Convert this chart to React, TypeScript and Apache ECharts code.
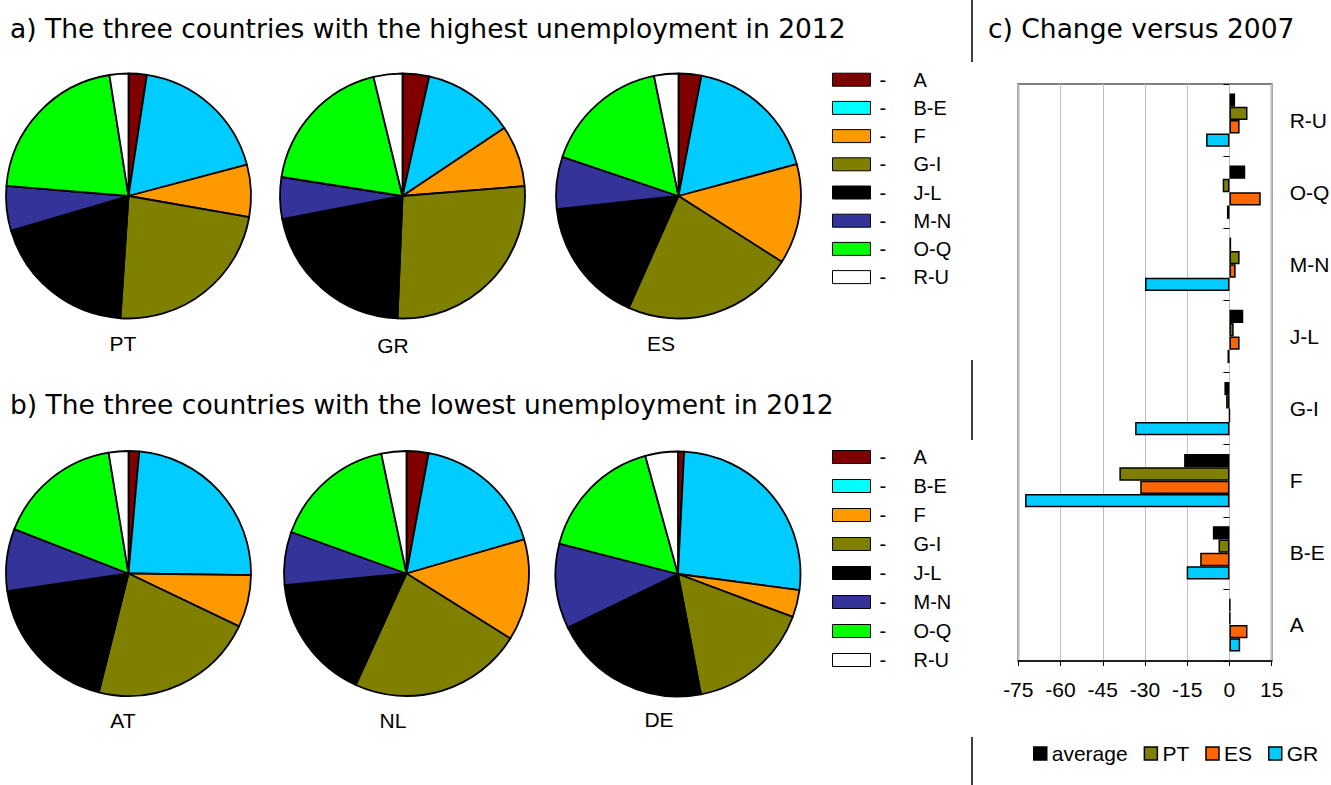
import React, { useEffect, useRef } from "react";
import * as echarts from "echarts";

// ---- Data ----
const sectors = ["A", "B-E", "F", "G-I", "J-L", "M-N", "O-Q", "R-U"];
const sectorColors = ["#800000", "#00CCFF", "#FF9900", "#808000", "#000000", "#333399", "#00FF00", "#FFFFFF"];
const legendColors = ["#800000", "#00FFFF", "#FF9900", "#808000", "#000000", "#333399", "#00FF00", "#FFFFFF"];

const highCountries = ["PT", "GR", "ES"];
const lowCountries = ["AT", "NL", "DE"];

// shares of unemployed by sector (%), order = sectors
const sharePT = [2.4, 18.5, 6.9, 23.3, 19.4, 5.9, 21.2, 2.5];
const shareGR = [3.5, 12.1, 8.1, 26.9, 21.3, 5.5, 18.7, 3.8];
const shareES = [3.0, 17.8, 13.2, 22.6, 16.6, 6.9, 16.6, 3.2];
const shareAT = [1.4, 23.8, 6.9, 21.8, 18.8, 8.2, 16.5, 2.6];
const shareNL = [2.9, 17.6, 13.4, 22.9, 16.7, 7.0, 16.2, 3.3];
const shareDE = [0.8, 26.3, 3.6, 16.3, 20.8, 11.2, 16.7, 4.3];

// change versus 2007, order = sectors (bottom to top)
const changeAverage = [0.3, -5.9, -16.1, -1.8, 4.9, 0.6, 5.6, 2.0];
const changePT = [0.3, -3.9, -39.1, -1.2, 1.5, 3.6, -2.4, 6.4];
const changeES = [6.4, -10.4, -31.7, 0, 3.6, 2.2, 11.1, 3.6];
const changeGR = [3.8, -15.2, -72.6, -33.5, -0.7, -30.0, -0.9, -8.3];
const barLegend = ["average", "PT", "ES", "GR"];

const titleA = "a) The three countries with the highest unemployment in 2012";
const titleB = "b) The three countries with the lowest unemployment in 2012";
const titleC = "c) Change versus 2007";

// ---- Layout ----
const ARIAL = "'Liberation Sans', Arial, sans-serif";
const VERDANA = "'DejaVu Sans', Verdana, sans-serif";
const pieR = 122.5;

function pieSeries(id: string, values: number[], cx: number, cy: number) {
  return {
    type: "pie",
    name: "pie-" + id,
    center: [cx, cy],
    radius: pieR,
    startAngle: 90,
    clockwise: true,
    silent: true,
    label: { show: false },
    labelLine: { show: false },
    emphasis: { disabled: true },
    itemStyle: { borderColor: "#000", borderWidth: 1.8 },
    data: sectors.map((s, i) => ({ name: s, value: values[i], itemStyle: { color: sectorColors[i] } })),
  };
}

function sectorLegend(top: number, gap: number) {
  return {
    orient: "vertical",
    left: 832,
    top,
    padding: 0,
    itemWidth: 38,
    itemHeight: 13,
    itemGap: gap,
    icon: "rect",
    selectedMode: false,
    data: sectors.map((s, i) => ({
      name: s,
      itemStyle: { color: legendColors[i], borderColor: "#000", borderWidth: 1 },
    })),
    formatter: (n: string) => `{d|-}{n|${n}}`,
    textStyle: {
      fontFamily: ARIAL,
      fontSize: 20,
      color: "#000",
      rich: {
        d: { width: 34, padding: [0, 0, 0, 4], fontFamily: ARIAL, fontSize: 20, color: "#000" },
        n: { fontFamily: ARIAL, fontSize: 20, color: "#000" },
      },
    },
  };
}

function barSeries(name: string, data: number[], color: string) {
  return {
    type: "bar",
    name,
    data,
    xAxisIndex: 0,
    yAxisIndex: 0,
    barGap: "0%",
    barCategoryGap: "26%",
    silent: true,
    itemStyle: { color, borderColor: "#000", borderWidth: 1.5 },
  };
}

function textEl(text: string, x: number, y: number, size: number, family: string, align = "left") {
  return {
    type: "text",
    x,
    y,
    silent: true,
    style: { text, fontSize: size, fontFamily: family, fill: "#000", align, verticalAlign: "middle" },
  };
}

function lineEl(y1: number, y2: number) {
  return {
    type: "line",
    silent: true,
    shape: { x1: 972, y1, x2: 972, y2 },
    style: { stroke: "#000", lineWidth: 1.5 },
  };
}

export default function App() {
  const ref = useRef<HTMLDivElement>(null);

  useEffect(() => {
    if (!ref.current) return;
    const chart = echarts.init(ref.current, null, { renderer: "svg" });
    const option: any = {
      animation: false,
      backgroundColor: "#fff",
      grid: {
        left: 1018.3,
        right: 59.3,
        top: 84,
        bottom: 124,
        show: true,
        borderColor: "#808080",
        borderWidth: 2,
        containLabel: false,
        outerBoundsMode: "none",
      },
      xAxis: {
        type: "value",
        min: -75,
        max: 15,
        interval: 15,
        position: "bottom",
        axisLine: { show: true, onZero: false, lineStyle: { color: "#000", width: 1.5 } },
        axisTick: { show: true, length: 5, lineStyle: { color: "#000", width: 1 } },
        axisLabel: { fontFamily: ARIAL, fontSize: 21, color: "#000", margin: 18 },
        splitLine: { show: true, lineStyle: { color: "#BFBFBF", width: 1 } },
      },
      yAxis: [
        {
          type: "category",
          data: sectors,
          position: "left",
          axisLine: { show: true, onZero: true, lineStyle: { color: "#000", opacity: 0 } },
          axisTick: { show: true, length: 6, lineStyle: { color: "#000", width: 1, opacity: 1 } },
          axisLabel: { show: false },
          splitLine: { show: false },
        },
        {
          type: "category",
          data: sectors,
          position: "right",
          axisLine: { show: false, onZero: false },
          axisTick: { show: false },
          axisLabel: { show: true, margin: 18, fontFamily: ARIAL, fontSize: 21, color: "#000", align: "left" },
          splitLine: { show: false },
        },
      ],
      legend: [
        sectorLegend(69.7, 8.2),
        sectorLegend(447, 9),
        {
          orient: "horizontal",
          left: 1033,
          top: 743,
          padding: 0,
          itemWidth: 13,
          itemHeight: 13,
          itemGap: 16,
          icon: "rect",
          selectedMode: false,
          data: barLegend,
          itemStyle: { borderColor: "#000", borderWidth: 1.5 },
          textStyle: { fontFamily: ARIAL, fontSize: 21, color: "#000", lineHeight: 20 },
        },
      ],
      series: [
        pieSeries(highCountries[0], sharePT, 128.5, 196),
        pieSeries(highCountries[1], shareGR, 402.5, 196),
        pieSeries(highCountries[2], shareES, 678.5, 196),
        pieSeries(lowCountries[0], shareAT, 128.5, 573.5),
        pieSeries(lowCountries[1], shareNL, 406.5, 573.5),
        pieSeries(lowCountries[2], shareDE, 678, 574),
        barSeries("average", changeAverage, "#000000"),
        barSeries("PT", changePT, "#808000"),
        barSeries("ES", changeES, "#FF6600"),
        barSeries("GR", changeGR, "#00CCFF"),
      ],
      graphic: [
        textEl(titleA, 10, 28, 26.5, VERDANA),
        textEl(titleB, 10, 404, 26.5, VERDANA),
        textEl(titleC, 988, 28, 26.5, VERDANA),
        textEl(highCountries[0], 123, 343, 21, ARIAL, "center"),
        textEl(highCountries[1], 393, 345, 21, ARIAL, "center"),
        textEl(highCountries[2], 661, 343, 21, ARIAL, "center"),
        textEl(lowCountries[0], 123, 720, 21, ARIAL, "center"),
        textEl(lowCountries[1], 393, 720, 21, ARIAL, "center"),
        textEl(lowCountries[2], 659, 719, 21, ARIAL, "center"),
        lineEl(0, 62),
        lineEl(360, 440),
        lineEl(737, 785),
      ],
    };
    chart.setOption(option);
    return () => chart.dispose();
  }, []);

  return (
    <div
      ref={ref}
      style={{ position: "fixed", left: 0, top: 0, width: 1331, height: 785, background: "#fff" }}
    />
  );
}
